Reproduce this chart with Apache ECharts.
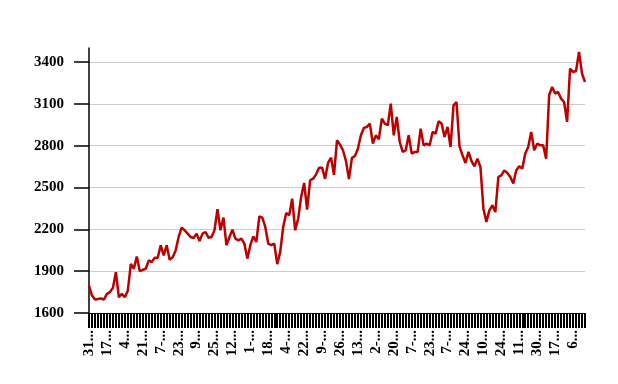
<!DOCTYPE html>
<html>
<head>
<meta charset="utf-8">
<script src="https://cdn.jsdelivr.net/npm/echarts@6/dist/echarts.min.js"></script>
<style>html,body{margin:0;padding:0;background:#fff}#c{width:618px;height:384px}</style>
</head>
<body>
<div id="c"></div>
<script>
const categories = [
"31-Jan-2014","3-Feb-2014","6-Feb-2014","8-Feb-2014","11-Feb-2014","14-Feb-2014",
"17-Feb-2014","20-Feb-2014","22-Feb-2014","25-Feb-2014","27-Feb-2014","2-Mar-2014",
"4-Mar-2014","7-Mar-2014","10-Mar-2014","12-Mar-2014","15-Mar-2014","18-Mar-2014",
"21-Mar-2014","24-Mar-2014","27-Mar-2014","29-Mar-2014","1-Apr-2014","4-Apr-2014",
"7-Apr-2014","10-Apr-2014","12-Apr-2014","15-Apr-2014","18-Apr-2014","20-Apr-2014",
"23-Apr-2014","26-Apr-2014","28-Apr-2014","1-May-2014","4-May-2014","6-May-2014",
"9-May-2014","12-May-2014","14-May-2014","17-May-2014","20-May-2014","22-May-2014",
"25-May-2014","28-May-2014","31-May-2014","3-Jun-2014","6-Jun-2014","9-Jun-2014",
"12-Jun-2014","15-Jun-2014","18-Jun-2014","22-Jun-2014","25-Jun-2014","28-Jun-2014",
"1-Jul-2014","4-Jul-2014","7-Jul-2014","9-Jul-2014","12-Jul-2014","15-Jul-2014",
"18-Jul-2014","21-Jul-2014","24-Jul-2014","26-Jul-2014","29-Jul-2014","1-Aug-2014",
"4-Aug-2014","7-Aug-2014","10-Aug-2014","13-Aug-2014","16-Aug-2014","19-Aug-2014",
"22-Aug-2014","25-Aug-2014","28-Aug-2014","31-Aug-2014","3-Sep-2014","6-Sep-2014",
"9-Sep-2014","12-Sep-2014","15-Sep-2014","17-Sep-2014","20-Sep-2014","23-Sep-2014",
"26-Sep-2014","29-Sep-2014","2-Oct-2014","4-Oct-2014","7-Oct-2014","10-Oct-2014",
"13-Oct-2014","16-Oct-2014","20-Oct-2014","23-Oct-2014","26-Oct-2014","29-Oct-2014",
"2-Nov-2014","5-Nov-2014","8-Nov-2014","11-Nov-2014","14-Nov-2014","17-Nov-2014",
"20-Nov-2014","23-Nov-2014","26-Nov-2014","28-Nov-2014","1-Dec-2014","4-Dec-2014",
"7-Dec-2014","10-Dec-2014","12-Dec-2014","15-Dec-2014","18-Dec-2014","20-Dec-2014",
"23-Dec-2014","26-Dec-2014","28-Dec-2014","31-Dec-2014","2-Jan-2015","5-Jan-2015",
"7-Jan-2015","10-Jan-2015","13-Jan-2015","15-Jan-2015","18-Jan-2015","21-Jan-2015",
"24-Jan-2015","27-Jan-2015","30-Jan-2015","1-Feb-2015","4-Feb-2015","7-Feb-2015",
"10-Feb-2015","12-Feb-2015","15-Feb-2015","17-Feb-2015","19-Feb-2015","22-Feb-2015",
"24-Feb-2015","27-Feb-2015","1-Mar-2015","4-Mar-2015","6-Mar-2015","9-Mar-2015",
"11-Mar-2015","14-Mar-2015","17-Mar-2015","21-Mar-2015","24-Mar-2015","27-Mar-2015",
"30-Mar-2015","2-Apr-2015","5-Apr-2015","8-Apr-2015","11-Apr-2015","14-Apr-2015",
"17-Apr-2015","20-Apr-2015","23-Apr-2015","27-Apr-2015","30-Apr-2015","3-May-2015",
"6-May-2015","9-May-2015","12-May-2015","14-May-2015","17-May-2015"
];

const values = [
1797,1725,1696,1700,1705,1696,1737,1750,1780,1893,
1713,1737,1713,1760,1953,1917,2005,1900,1910,1917,
1977,1965,1996,1996,2085,2013,2085,1982,2000,2049,
2145,2212,2193,2169,2145,2138,2169,2116,2169,2181,
2140,2145,2193,2345,2193,2284,2086,2145,2198,2133,
2121,2133,2097,1990,2086,2150,2109,2293,2284,2217,
2097,2086,2097,1950,2038,2217,2317,2300,2420,2193,
2276,2432,2532,2341,2551,2563,2594,2642,2642,2563,
2676,2714,2590,2838,2807,2767,2690,2560,2712,2726,
2778,2874,2927,2934,2958,2814,2874,2845,2994,2958,
2946,3101,2874,3006,2826,2755,2767,2874,2743,2755,
2755,2922,2802,2814,2802,2898,2886,2974,2958,2862,
2934,2790,3089,3113,2795,2731,2676,2755,2690,2652,
2707,2647,2348,2253,2336,2372,2324,2575,2587,2623,
2604,2575,2528,2623,2652,2635,2743,2790,2898,2767,
2814,2802,2802,2707,3161,3221,3173,3185,3137,3113,
2970,3352,3328,3335,3472,3316,3256
];

const yTicks = [1600, 1900, 2200, 2500, 2800, 3100, 3400];
const yMin = 1600;
const yMax = 3500;

const chart = echarts.init(document.getElementById('c'), null, {renderer: 'canvas'});
chart.setOption({
  animation: false,
  backgroundColor: '#ffffff',
  grid: {left: 89, right: 33, top: 48, bottom: 71, containLabel: false},
  xAxis: {
    type: 'category',
    data: categories,
    boundaryGap: false,
    axisLine: {show: true, lineStyle: {color: '#000', width: 1}},
    axisTick: {show: true, interval: 0, length: 15, lineStyle: {color: '#000', width: 2}},
    axisLabel: {
      interval: 5,
      rotate: 90,
      margin: 17,
      fontFamily: 'Liberation Serif',
      fontWeight: 'bold',
      fontSize: 15,
      color: '#000',
      width: 28,
      overflow: 'truncate'
    },
    splitLine: {show: false}
  },
  yAxis: {
    type: 'value',
    min: yMin,
    max: yMax,
    axisLine: {show: true, lineStyle: {color: '#000', width: 1.5}},
    axisTick: {show: true, length: 15, customValues: yTicks, lineStyle: {color: '#000', width: 1.5}},
    axisLabel: {
      customValues: yTicks,
      margin: 25,
      fontFamily: 'Liberation Serif',
      fontWeight: 'bold',
      fontSize: 15,
      color: '#000',
      formatter: function (v) { return String(v); }
    },
    splitLine: {show: true, lineStyle: {color: '#cccccc', width: 1}}
  },
  series: [{
    type: 'line',
    data: values,
    showSymbol: false,
    symbol: 'none',
    lineStyle: {color: '#bb0000', width: 2.5},
    itemStyle: {color: '#bb0000'}
  }]
});
</script>
</body>
</html>
